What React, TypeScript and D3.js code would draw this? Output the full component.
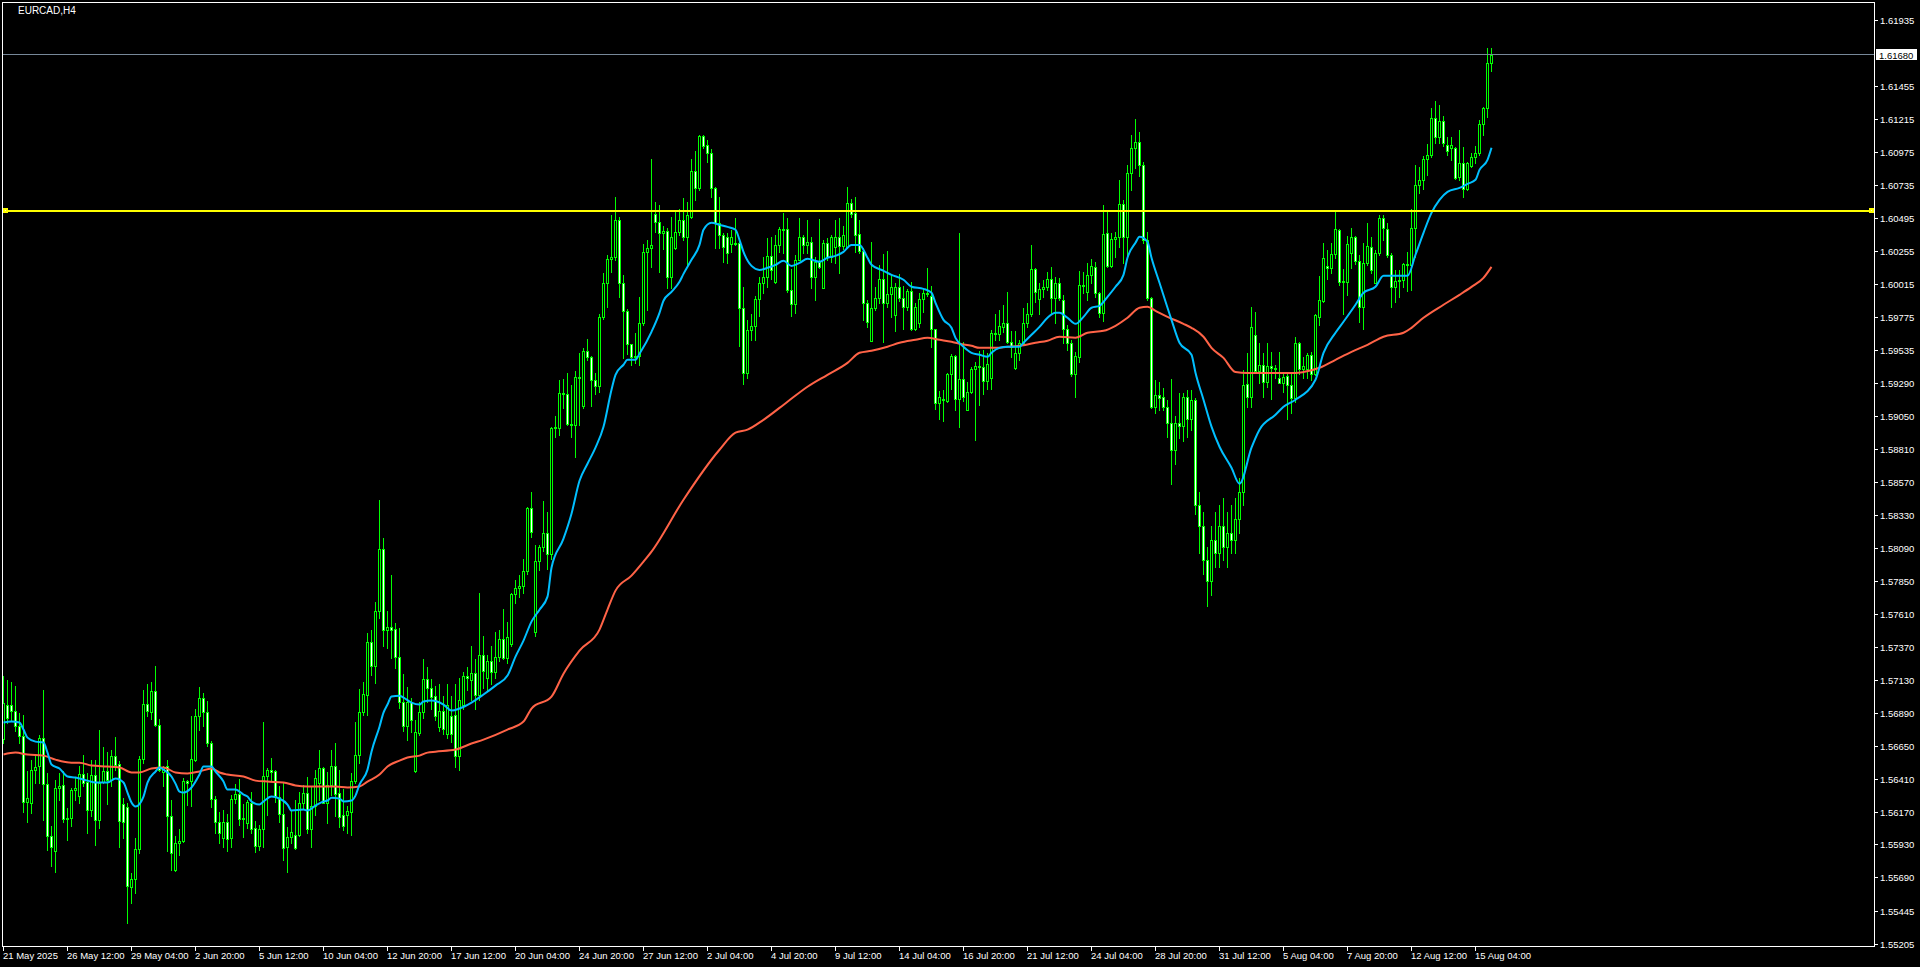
import React, { useEffect } from "react";
import * as d3 from "d3";

const symbolTitle = "EURCAD,H4";

const opens = [
1.56698,1.56948,1.56948,1.56899,1.56791,1.56717,1.56236,1.56231,1.56469,1.56498,
1.56705,1.56372,1.55995,1.55886,1.56340,1.56362,1.56119,1.56124,1.56328,1.56280,
1.56443,1.56387,1.56178,1.56435,1.56105,1.56384,1.56467,1.56401,1.56574,1.56515,
1.56226,1.56202,1.55619,1.55677,1.55896,1.56552,1.56953,1.56894,1.57048,1.56797,
1.56455,1.56503,1.56139,1.55745,1.55941,1.55952,1.56394,1.56389,1.56543,1.56863,
1.56997,1.56894,1.56669,1.56263,1.56096,1.55980,1.56091,1.55975,1.56259,1.56298,
1.56113,1.56084,1.56235,1.56048,1.55921,1.56043,1.56429,1.56473,1.56465,1.56279,
1.56150,1.55914,1.55982,1.55999,1.55999,1.56235,1.56303,1.56041,1.56213,1.56376,
1.56485,1.56235,1.56364,1.56505,1.56303,1.56145,1.56145,1.56169,1.56393,1.56582,
1.56898,1.57020,1.57404,1.57231,1.57627,1.58082,1.57489,1.57513,1.57499,1.57299,
1.56964,1.56796,1.56966,1.56468,1.56740,1.56898,1.57134,1.57068,1.57009,1.56783,
1.56903,1.56731,1.56864,1.56873,1.56571,1.56949,1.57160,1.57130,1.57181,1.57015,
1.57311,1.57145,1.57266,1.57184,1.57296,1.57423,1.57290,1.57387,1.57755,1.57800,
1.57815,1.57921,1.58377,1.57477,1.57997,1.58096,1.58196,1.58042,1.58966,1.58966,
1.59220,1.59208,1.58996,1.58987,1.59335,1.59123,1.59525,1.59477,1.59311,1.59268,
1.59773,1.60020,1.60195,1.60210,1.60476,1.60020,1.59812,1.59576,1.59480,1.59489,
1.59727,1.60247,1.60271,1.60519,1.60466,1.60381,1.60400,1.60065,1.60276,1.60388,
1.60478,1.60357,1.60502,1.60835,1.60709,1.61090,1.61025,1.60964,1.60709,1.60454,
1.60369,1.60357,1.60303,1.60308,1.60313,1.59834,1.59365,1.59676,1.59705,1.59902,
1.60016,1.60065,1.60216,1.60024,1.60296,1.60410,1.60410,1.59968,1.59866,1.60186,
1.60352,1.60293,1.60320,1.60065,1.60174,1.59980,1.60308,1.60206,1.60284,1.60357,
1.60288,1.60284,1.60600,1.60527,1.60374,1.60254,1.59871,1.59598,1.59834,1.59907,
1.60046,1.59871,1.59936,1.59786,1.59992,1.59912,1.59841,1.59961,1.59688,1.59725,
1.59900,1.59944,1.59924,1.59681,1.59142,1.59171,1.59161,1.59360,1.59487,1.59178,
1.59317,1.59098,1.59227,1.59390,1.59414,1.59404,1.59307,1.59324,1.59652,1.59647,
1.59700,1.59725,1.59591,1.59397,1.59511,1.59584,1.59730,1.59793,1.60118,1.59900,
1.59973,1.59987,1.60046,1.59907,1.60021,1.59895,1.59688,1.59579,1.59360,1.59483,
1.60006,1.59952,1.60078,1.60134,1.59945,1.59799,1.60382,1.60144,1.60338,1.60353,
1.60596,1.60358,1.60820,1.61000,1.61050,1.60880,1.60334,1.59908,1.59119,1.59204,
1.59192,1.59119,1.59002,1.58800,1.58997,1.58975,1.59187,1.59026,1.59167,1.58400,
1.58250,1.58000,1.57850,1.58150,1.58050,1.58250,1.58100,1.58200,1.58150,1.58300,
1.58500,1.59284,1.59187,1.59641,1.59381,1.59422,1.59301,1.59415,1.59403,1.59325,
1.59294,1.59343,1.59277,1.59179,1.59579,1.59396,1.59396,1.59494,1.59360,1.59773,
1.59888,1.60145,1.60126,1.60230,1.60405,1.60028,1.60028,1.60235,1.60351,1.60181,
1.59841,1.60167,1.60283,1.60021,1.60240,1.60490,1.60410,1.60223,1.59987,1.60035,
1.60040,1.60157,1.60147,1.60417,1.60733,1.60769,1.60920,1.60952,1.61219,1.61085,
1.61200,1.61025,1.61000,1.61000,1.60789,1.60891,1.60701,1.60871,1.60935,1.60964,
1.61178,1.61292,1.61620
];

const highs = [
1.57155,1.57130,1.57111,1.57082,1.56887,1.56875,1.56462,1.56548,1.56584,1.56729,
1.57057,1.56450,1.56068,1.56401,1.56450,1.56462,1.56195,1.56340,1.56413,1.56498,
1.56584,1.56450,1.56548,1.56548,1.56766,1.56639,1.56605,1.56620,1.56715,1.56535,
1.56268,1.56231,1.55721,1.55976,1.56571,1.57057,1.57101,1.57113,1.57227,1.56843,
1.56503,1.56543,1.56255,1.55988,1.56044,1.56413,1.56401,1.56863,1.56919,1.57077,
1.57033,1.56972,1.56681,1.56280,1.56169,1.56181,1.56150,1.56291,1.56368,1.56405,
1.56225,1.56254,1.56310,1.56104,1.56072,1.56825,1.56485,1.56558,1.56473,1.56356,
1.56376,1.56060,1.56181,1.56254,1.56315,1.56364,1.56424,1.56351,1.56473,1.56619,
1.56497,1.56461,1.56619,1.56667,1.56473,1.56332,1.56211,1.56449,1.56825,1.57063,
1.57112,1.57469,1.57494,1.57695,1.58441,1.58162,1.57627,1.57894,1.57542,1.57506,
1.57173,1.57076,1.56995,1.56837,1.56971,1.57282,1.57219,1.57136,1.57085,1.57100,
1.57009,1.57100,1.57009,1.57100,1.57145,1.57184,1.57221,1.57372,1.57281,1.57764,
1.57447,1.57311,1.57378,1.57477,1.57492,1.57643,1.57553,1.57764,1.57855,1.57891,
1.58006,1.58389,1.58498,1.58112,1.58112,1.58429,1.58353,1.58972,1.59048,1.59313,
1.59320,1.59365,1.59274,1.59380,1.59507,1.59546,1.59612,1.59486,1.59365,1.59794,
1.60090,1.60226,1.60518,1.60645,1.60497,1.60075,1.59833,1.59576,1.59652,1.59914,
1.60301,1.60331,1.60920,1.60612,1.60587,1.60434,1.60417,1.60502,1.60551,1.60556,
1.60636,1.60612,1.60920,1.60983,1.61098,1.61098,1.61061,1.60993,1.60721,1.60648,
1.60381,1.60381,1.60405,1.60490,1.60332,1.59993,1.59750,1.59790,1.59924,1.60060,
1.60211,1.60349,1.60352,1.60369,1.60429,1.60527,1.60490,1.60119,1.60223,1.60490,
1.60369,1.60478,1.60352,1.60211,1.60483,1.60332,1.60344,1.60369,1.60478,1.60490,
1.60434,1.60716,1.60629,1.60643,1.60478,1.60271,1.59895,1.60315,1.59992,1.60150,
1.60230,1.60252,1.60077,1.60016,1.60082,1.59997,1.59973,1.60029,1.59871,1.59948,
1.59980,1.60126,1.59997,1.59688,1.59234,1.59239,1.59365,1.59501,1.59494,1.60381,
1.59591,1.59300,1.59409,1.59445,1.59526,1.59530,1.59506,1.59676,1.59793,1.59822,
1.59858,1.59951,1.59671,1.59671,1.59603,1.59834,1.59871,1.60296,1.60126,1.60016,
1.60041,1.60097,1.60138,1.60065,1.60053,1.59931,1.59713,1.59603,1.59518,1.60110,
1.60103,1.60164,1.60193,1.60176,1.59957,1.60589,1.60540,1.60382,1.60394,1.60771,
1.60625,1.60880,1.61100,1.61215,1.61120,1.60900,1.60394,1.59920,1.59314,1.59301,
1.59252,1.59167,1.59318,1.59051,1.59216,1.59216,1.59240,1.59240,1.59180,1.58500,
1.58350,1.58100,1.58250,1.58350,1.58400,1.58450,1.58350,1.58400,1.58450,1.58600,
1.59386,1.59513,1.59843,1.59811,1.59580,1.59507,1.59580,1.59520,1.59422,1.59520,
1.59374,1.59374,1.59366,1.59627,1.59591,1.59482,1.59506,1.59518,1.59790,1.60070,
1.60313,1.60259,1.60313,1.60539,1.60410,1.60118,1.60361,1.60417,1.60361,1.60223,
1.60308,1.60454,1.60356,1.60259,1.60514,1.60514,1.60458,1.60235,1.60113,1.60113,
1.60167,1.60247,1.60556,1.60879,1.60867,1.60944,1.61032,1.61292,1.61348,1.61316,
1.61236,1.61085,1.61080,1.61012,1.61134,1.61012,1.60903,1.60969,1.61017,1.61207,
1.61304,1.61729,1.61729
];

const lows = [
1.56669,1.56814,1.56839,1.56754,1.56669,1.56170,1.56090,1.56158,1.56377,1.56377,
1.56110,1.55891,1.55774,1.55726,1.56255,1.56097,1.55959,1.56062,1.56255,1.56231,
1.56353,1.56012,1.56134,1.55927,1.56049,1.56377,1.56226,1.56357,1.56474,1.55915,
1.55976,1.55356,1.55507,1.55576,1.55867,1.56523,1.56863,1.56843,1.56791,1.56462,
1.56357,1.55879,1.55745,1.55740,1.55850,1.55946,1.56217,1.56212,1.56535,1.56766,
1.56791,1.56649,1.56200,1.56012,1.55943,1.55914,1.55885,1.55914,1.56230,1.56072,
1.55987,1.56048,1.56011,1.55877,1.55890,1.55914,1.56145,1.56400,1.56242,1.56096,
1.55817,1.55732,1.55938,1.55895,1.55992,1.56194,1.56011,1.55914,1.56145,1.56254,
1.56230,1.56089,1.56291,1.56138,1.56060,1.56036,1.56016,1.55999,1.56376,1.56526,
1.56874,1.56874,1.57165,1.57105,1.57579,1.57377,1.57360,1.57287,1.57214,1.56922,
1.56760,1.56692,1.56752,1.56461,1.56728,1.56849,1.56964,1.56915,1.56834,1.56753,
1.56738,1.56707,1.56677,1.56496,1.56472,1.56919,1.57054,1.56979,1.56919,1.56979,
1.57070,1.57054,1.57100,1.57145,1.57266,1.57281,1.57251,1.57372,1.57689,1.57734,
1.57764,1.57900,1.58172,1.57447,1.57930,1.58066,1.57939,1.58006,1.58897,1.58912,
1.59108,1.58987,1.58897,1.58755,1.58987,1.59108,1.59455,1.59123,1.59214,1.59229,
1.59757,1.59848,1.60096,1.60189,1.59914,1.59470,1.59501,1.59425,1.59440,1.59425,
1.59712,1.59822,1.60138,1.60393,1.60101,1.60264,1.59980,1.59980,1.60264,1.60369,
1.60332,1.60143,1.60490,1.60624,1.60697,1.61000,1.60903,1.60648,1.60271,1.60271,
1.60174,1.60167,1.60247,1.60296,1.59559,1.59287,1.59331,1.59603,1.59603,1.59778,
1.59948,1.59993,1.60046,1.60016,1.60247,1.60236,1.59956,1.59778,1.59802,1.60186,
1.60236,1.60236,1.59980,1.59895,1.60126,1.59980,1.60186,1.60174,1.60162,1.60094,
1.60264,1.60276,1.60498,1.60247,1.60236,1.59750,1.59696,1.59598,1.59822,1.59871,
1.59591,1.59846,1.59769,1.59671,1.59890,1.59688,1.59822,1.59676,1.59676,1.59700,
1.59810,1.59924,1.59550,1.59105,1.59032,1.59015,1.59154,1.59251,1.59093,1.58967,
1.59161,1.59093,1.59219,1.58874,1.59130,1.59210,1.59244,1.59251,1.59603,1.59603,
1.59664,1.59579,1.59477,1.59390,1.59458,1.59567,1.59700,1.59778,1.59883,1.59793,
1.59919,1.59968,1.59798,1.59725,1.59895,1.59584,1.59535,1.59341,1.59190,1.59447,
1.59950,1.59896,1.60018,1.59920,1.59770,1.59746,1.60134,1.60134,1.60207,1.60285,
1.60168,1.60224,1.60700,1.60860,1.60800,1.60309,1.59896,1.59107,1.59071,1.59094,
1.59094,1.58900,1.58557,1.58700,1.58888,1.58870,1.58900,1.58950,1.58340,1.58050,
1.57900,1.57670,1.57750,1.57950,1.57950,1.58000,1.57950,1.58050,1.58050,1.58200,
1.58400,1.59119,1.59119,1.59374,1.59294,1.59192,1.59260,1.59172,1.59325,1.59289,
1.59228,1.59026,1.59071,1.59150,1.59360,1.59324,1.59324,1.59311,1.59348,1.59712,
1.59882,1.60052,1.60089,1.60198,1.60004,1.59793,1.59931,1.60126,1.60157,1.59737,
1.59688,1.60150,1.60089,1.60016,1.60223,1.60332,1.60211,1.59846,1.59882,1.59914,
1.59992,1.59963,1.59968,1.60211,1.60672,1.60701,1.60806,1.60940,1.61042,1.61037,
1.61017,1.60952,1.60915,1.60774,1.60769,1.60648,1.60697,1.60862,1.60891,1.60952,
1.61097,1.61226,1.61566
];

const closes = [
1.56960,1.56851,1.56899,1.56791,1.56717,1.56236,1.56268,1.56474,1.56494,1.56705,
1.56372,1.55995,1.55915,1.56340,1.56357,1.56119,1.56124,1.56328,1.56343,1.56443,
1.56377,1.56178,1.56435,1.56105,1.56377,1.56467,1.56396,1.56574,1.56511,1.56100,
1.56090,1.55624,1.55677,1.55896,1.56552,1.56953,1.56899,1.57048,1.56800,1.56474,
1.56491,1.56134,1.55867,1.55941,1.55956,1.56394,1.56377,1.56554,1.56868,1.56997,
1.56894,1.56669,1.56263,1.56093,1.56011,1.56091,1.55967,1.56259,1.56298,1.56113,
1.56121,1.56242,1.56043,1.55921,1.56043,1.56429,1.56473,1.56458,1.56279,1.56150,
1.55907,1.55982,1.56021,1.55902,1.56235,1.56303,1.56041,1.56213,1.56417,1.56485,
1.56235,1.56364,1.56505,1.56296,1.56128,1.56067,1.56174,1.56393,1.56582,1.56893,
1.57027,1.57404,1.57231,1.57627,1.58082,1.57489,1.57513,1.57494,1.57299,1.56964,
1.56796,1.56966,1.56837,1.56747,1.56898,1.57134,1.57068,1.57007,1.56864,1.56903,
1.56768,1.56943,1.56731,1.56571,1.56985,1.57160,1.57145,1.57181,1.57015,1.57311,
1.57191,1.57266,1.57184,1.57296,1.57423,1.57290,1.57438,1.57755,1.57800,1.57810,
1.57921,1.58377,1.58208,1.57997,1.58096,1.58196,1.58042,1.58966,1.58972,1.59220,
1.59208,1.58996,1.58987,1.59335,1.59326,1.59525,1.59477,1.59311,1.59268,1.59773,
1.60020,1.60195,1.60210,1.60476,1.60020,1.59812,1.59576,1.59480,1.59489,1.59727,
1.60247,1.60271,1.60296,1.60466,1.60381,1.60400,1.60065,1.60352,1.60388,1.60478,
1.60357,1.60514,1.60835,1.60709,1.61090,1.61017,1.60964,1.60709,1.60454,1.60369,
1.60279,1.60236,1.60352,1.60303,1.59834,1.59365,1.59676,1.59705,1.59902,1.60016,
1.60065,1.60216,1.60114,1.60296,1.60410,1.60405,1.59968,1.59866,1.60186,1.60352,
1.60296,1.60320,1.60065,1.60174,1.60138,1.60308,1.60206,1.60357,1.60357,1.60288,
1.60369,1.60600,1.60522,1.60369,1.60254,1.59871,1.59732,1.59834,1.59907,1.60046,
1.59871,1.59936,1.59987,1.59992,1.59912,1.59841,1.59961,1.59688,1.59841,1.59900,
1.59944,1.59936,1.59681,1.59142,1.59190,1.59166,1.59360,1.59487,1.59178,1.59317,
1.59190,1.59227,1.59390,1.59414,1.59404,1.59307,1.59433,1.59652,1.59647,1.59705,
1.59725,1.59591,1.59555,1.59511,1.59584,1.59730,1.59793,1.60118,1.59956,1.59973,
1.59987,1.60046,1.59907,1.60021,1.59907,1.59688,1.59579,1.59360,1.59487,1.60006,
1.59998,1.60078,1.60144,1.59945,1.59799,1.60377,1.60144,1.60338,1.60353,1.60596,
1.60353,1.60820,1.61000,1.61050,1.60880,1.60334,1.59908,1.59119,1.59204,1.59182,
1.59119,1.59002,1.58800,1.58997,1.58975,1.59187,1.59026,1.59167,1.58400,1.58250,
1.58000,1.57850,1.58150,1.58050,1.58250,1.58100,1.58200,1.58150,1.58300,1.58500,
1.59277,1.59187,1.59702,1.59381,1.59422,1.59301,1.59415,1.59403,1.59396,1.59294,
1.59333,1.59277,1.59179,1.59579,1.59396,1.59413,1.59494,1.59360,1.59785,1.59895,
1.60198,1.60126,1.60230,1.60410,1.60028,1.60035,1.60303,1.60351,1.60181,1.59841,
1.60167,1.60288,1.60113,1.60240,1.60490,1.60417,1.60223,1.59987,1.60035,1.60040,
1.60157,1.60147,1.60417,1.60733,1.60769,1.60920,1.60952,1.61219,1.61085,1.61200,
1.61037,1.60983,1.61025,1.60782,1.60891,1.60701,1.60896,1.60935,1.60964,1.61178,
1.61292,1.61625,1.61680
];

const fastMaBars = [0,2,4,5,6,8,10,11,12,14,16,18,21,23,26,28,30,31,32,33,35,36,38,39,40,42,43,44,45,47,49,50,52,53,55,56,58,60,61,62,64,65,67,69,71,72,75,76,78,80,81,82,84,85,87,88,89,91,92,94,95,96,97,99,100,102,104,105,107,110,112,114,117,120,123,126,128,130,132,134,136,137,140,142,144,146,148,150,152,153,155,156,158,159,162,164,165,167,169,170,172,174,175,177,179,181,183,184,185,187,189,191,193,195,197,199,201,204,206,208,210,212,214,216,217,220,222,225,227,230,232,233,235,237,238,240,242,244,246,247,249,251,254,255,257,259,261,263,264,266,268,270,272,274,276,278,280,281,283,284,286,287,289,292,294,297,298,300,302,304,307,309,312,314,318,320,323,328,330,333,335,338,340,343,345,348,351,353,355,357,359,361,364,366,368,369,371,372];
const fastMaValues = [1.56818,1.56825,1.56818,1.56767,1.56708,1.56679,1.56672,1.56599,1.56512,1.56483,1.56425,1.56417,1.56395,1.56381,1.56381,1.56410,1.56381,1.56308,1.56235,1.56206,1.56279,1.56381,1.56461,1.56490,1.56475,1.56425,1.56373,1.56315,1.56308,1.56345,1.56439,1.56497,1.56497,1.56461,1.56388,1.56330,1.56330,1.56293,1.56279,1.56243,1.56221,1.56243,1.56279,1.56264,1.56221,1.56177,1.56184,1.56177,1.56213,1.56243,1.56250,1.56271,1.56264,1.56243,1.56250,1.56286,1.56366,1.56475,1.56606,1.56788,1.56890,1.56949,1.57007,1.57014,1.57000,1.56963,1.56949,1.56971,1.56978,1.56949,1.56905,1.56920,1.56963,1.57022,1.57087,1.57160,1.57298,1.57415,1.57553,1.57640,1.57735,1.57946,1.58157,1.58339,1.58579,1.58703,1.58820,1.58972,1.59242,1.59351,1.59424,1.59460,1.59460,1.59504,1.59664,1.59802,1.59890,1.59955,1.60028,1.60086,1.60188,1.60297,1.60407,1.60458,1.60443,1.60428,1.60407,1.60334,1.60246,1.60144,1.60115,1.60130,1.60152,1.60181,1.60144,1.60166,1.60196,1.60174,1.60203,1.60217,1.60246,1.60297,1.60297,1.60203,1.60152,1.60108,1.60079,1.60043,1.59992,1.59977,1.59948,1.59875,1.59751,1.59693,1.59620,1.59555,1.59511,1.59497,1.59482,1.59511,1.59547,1.59555,1.59555,1.59584,1.59642,1.59700,1.59766,1.59802,1.59802,1.59766,1.59722,1.59773,1.59839,1.59853,1.59919,1.59992,1.60079,1.60203,1.60312,1.60356,1.60319,1.60203,1.60021,1.59751,1.59584,1.59497,1.59366,1.59169,1.58973,1.58827,1.58674,1.58557,1.58820,1.58951,1.59060,1.59118,1.59169,1.59315,1.59511,1.59657,1.59737,1.59861,1.59948,1.59992,1.60072,1.60072,1.60072,1.60225,1.60385,1.60530,1.60625,1.60683,1.60712,1.60741,1.60771,1.60843,1.60916,1.61004];

const slowMaBars = [0,3,6,10,13,17,19,22,26,29,32,34,37,40,43,46,49,52,54,56,60,63,66,70,73,76,80,83,86,89,91,94,96,99,101,104,106,108,113,117,120,126,130,132,137,140,144,149,151,153,157,160,162,170,179,183,186,190,196,201,206,211,214,217,221,224,228,231,234,237,239,242,244,248,251,254,258,261,264,268,271,275,278,281,284,286,288,291,295,297,300,302,305,308,311,315,318,323,325,329,333,337,341,345,350,352,355,360,364,367,370,372];
const slowMaValues = [1.56585,1.56599,1.56585,1.56577,1.56548,1.56526,1.56526,1.56505,1.56498,1.56491,1.56454,1.56454,1.56483,1.56491,1.56454,1.56447,1.56462,1.56483,1.56454,1.56439,1.56425,1.56395,1.56388,1.56381,1.56360,1.56352,1.56352,1.56352,1.56345,1.56352,1.56388,1.56439,1.56498,1.56541,1.56563,1.56577,1.56599,1.56606,1.56621,1.56665,1.56694,1.56767,1.56825,1.56920,1.57007,1.57174,1.57342,1.57495,1.57641,1.57779,1.57888,1.57990,1.58063,1.58441,1.58805,1.58929,1.58951,1.59023,1.59155,1.59264,1.59351,1.59438,1.59511,1.59526,1.59555,1.59584,1.59606,1.59621,1.59606,1.59591,1.59577,1.59562,1.59547,1.59547,1.59555,1.59562,1.59584,1.59599,1.59628,1.59621,1.59657,1.59671,1.59708,1.59766,1.59839,1.59846,1.59817,1.59773,1.59722,1.59693,1.59628,1.59547,1.59474,1.59371,1.59364,1.59364,1.59364,1.59364,1.59371,1.59402,1.59460,1.59518,1.59569,1.59628,1.59657,1.59693,1.59766,1.59861,1.59933,1.59991,1.60057,1.60137];

const timeLabels = ["21 May 2025","26 May 12:00","29 May 04:00","2 Jun 20:00","5 Jun 12:00","10 Jun 04:00","12 Jun 20:00","17 Jun 12:00","20 Jun 04:00","24 Jun 20:00","27 Jun 12:00","2 Jul 04:00","4 Jul 20:00","9 Jul 12:00","14 Jul 04:00","16 Jul 20:00","21 Jul 12:00","24 Jul 04:00","28 Jul 20:00","31 Jul 12:00","5 Aug 04:00","7 Aug 20:00","12 Aug 12:00","15 Aug 04:00"];
const timeLabelBars = [0,16,32,48,64,80,96,112,128,144,160,176,192,208,224,240,256,272,288,304,320,336,352,368];

const priceTicks = [1.61935,1.61455,1.61215,1.60975,1.60735,1.60495,1.60255,1.60015,1.59775,1.59535,1.59290,1.59050,1.58810,1.58570,1.58330,1.58090,1.57850,1.57610,1.57370,1.57130,1.56890,1.56650,1.56410,1.56170,1.55930,1.55690,1.55445,1.55205];

const bidPrice = 1.6168;
const levelPrice = 1.60545;

const FONT = "'Liberation Sans', Arial, sans-serif";
const LIME = "#00FF00";

export default function App() {
  useEffect(() => {
    document.body.style.margin = "0";
    document.body.style.background = "#000";
  }, []);

  const W = 1920;
  const H = 967;
  const left = 2, right = 1874, top = 2, bottom = 946;

  const x = d3.scaleLinear().domain([0, opens.length - 1]).range([3.5, 3.5 + 4 * (opens.length - 1)]);
  const y = d3.scaleLinear().domain([1.55205, 1.61935]).range([944, 20]);

  const maLine = d3
    .line<[number, number]>()
    .x((d) => x(d[0]))
    .y((d) => y(d[1]))
    .curve(d3.curveMonotoneX);

  const fastPts = fastMaBars.map((b, i) => [b, fastMaValues[i]] as [number, number]);
  const slowPts = slowMaBars.map((b, i) => [b, slowMaValues[i]] as [number, number]);

  const candles = opens.map((o, i) => {
    const c = closes[i];
    const h = highs[i];
    const l = lows[i];
    const cx = x(i);
    const yh = Math.round(y(h));
    const yl = Math.round(y(l));
    const yt = Math.round(y(Math.max(o, c)));
    const yb = Math.round(y(Math.min(o, c)));
    const bull = c >= o;
    return (
      <g key={i}>
        <rect x={cx - 0.5} y={yh} width={1} height={Math.max(1, yl - yh + 1)} fill={LIME} />
        {yb - yt < 1 ? (
          <rect x={cx - 1.5} y={yt} width={3} height={1} fill={LIME} />
        ) : (
          <rect
            x={cx - 1}
            y={yt + 0.5}
            width={2}
            height={yb - yt}
            fill={bull ? "#000000" : "#FFFFFF"}
            stroke={LIME}
            strokeWidth={1}
          />
        )}
      </g>
    );
  });

  const levelY = Math.round(y(levelPrice));
  const bidY = Math.round(y(bidPrice));

  return (
    <div style={{ position: "absolute", left: 0, top: 0, width: W, height: H, background: "#000" }}>
      <svg width={W} height={H} style={{ display: "block" }} fontFamily={FONT}>
        <rect x={0} y={0} width={W} height={H} fill="#000" />
        <g shapeRendering="crispEdges">{candles}</g>

        <path d={maLine(slowPts) || ""} fill="none" stroke="#FF6347" strokeWidth={2} />
        <path d={maLine(fastPts) || ""} fill="none" stroke="#00BFFF" strokeWidth={2} />

        {/* horizontal level */}
        <g shapeRendering="crispEdges">
          <rect x={left} y={levelY - 1} width={right - left} height={2} fill="#FFFF00" />
          <rect x={left + 1} y={levelY - 3} width={5} height={5} fill="#FFFF00" />
          <rect x={left + 3} y={levelY - 1} width={1} height={1} fill="#FFFFC0" />
          <rect x={right - 5} y={levelY - 3} width={5} height={5} fill="#FFFF00" />
          <rect x={right - 3} y={levelY - 1} width={1} height={1} fill="#FFFFC0" />
        </g>

        {/* bid line */}
        <line x1={left} x2={right} y1={bidY - 0.5} y2={bidY - 0.5} stroke="#778899" strokeWidth={1} shapeRendering="crispEdges" />

        {/* frame */}
        <g stroke="#FFFFFF" strokeWidth={1} shapeRendering="crispEdges">
          <line x1={left} x2={right + 1} y1={top + 0.5} y2={top + 0.5} />
          <line x1={left + 0.5} x2={left + 0.5} y1={top} y2={bottom + 1} />
          <line x1={right + 0.5} x2={right + 0.5} y1={top} y2={bottom + 1} />
          <line x1={left} x2={right + 1} y1={bottom + 0.5} y2={bottom + 0.5} />
        </g>

        {/* price axis */}
        {priceTicks.map((p) => {
          const ty = Math.round(y(p));
          return (
            <g key={p}>
              <line x1={right + 1} x2={right + 4} y1={ty + 0.5} y2={ty + 0.5} stroke="#FFFFFF" shapeRendering="crispEdges" />
              <text x={1880} y={ty + 4} fill="#FFFFFF" fontSize={9.5}>
                {p.toFixed(5)}
              </text>
            </g>
          );
        })}

        {/* bid label */}
        <rect x={1876} y={bidY - 6} width={41} height={11} fill="#FFFFFF" shapeRendering="crispEdges" />
        <text x={1879} y={bidY + 4} fill="#000000" fontSize={9.5}>
          {bidPrice.toFixed(5)}
        </text>

        {/* time axis */}
        {timeLabelBars.map((b, i) => {
          const tx = x(b);
          return (
            <g key={b}>
              <line x1={tx} x2={tx} y1={bottom + 1} y2={bottom + 5} stroke="#FFFFFF" shapeRendering="crispEdges" />
              <text x={tx - 0.5} y={959} fill="#FFFFFF" fontSize={9.5}>
                {timeLabels[i]}
              </text>
            </g>
          );
        })}

        <text x={18} y={14} fill="#FFFFFF" fontSize={10}>
          {symbolTitle}
        </text>
      </svg>
    </div>
  );
}
